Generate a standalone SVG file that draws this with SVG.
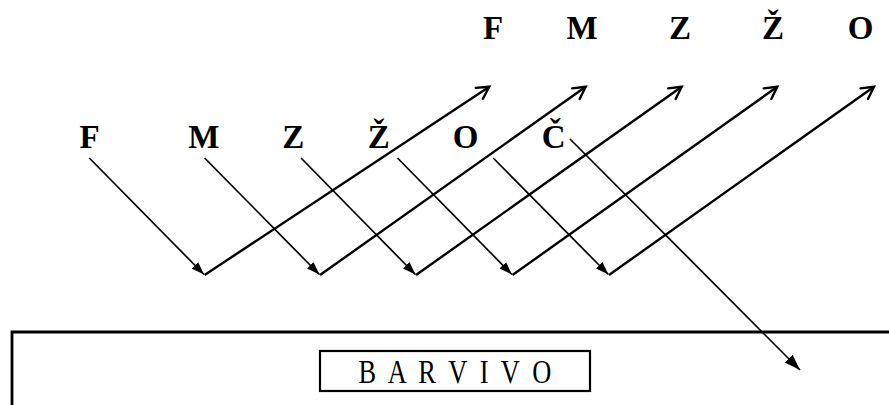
<svg xmlns="http://www.w3.org/2000/svg" width="889" height="405" viewBox="0 0 889 405">
<style>
.lt{font-family:"Liberation Serif","Times New Roman",serif;font-weight:bold;font-size:33px;fill:#000;text-anchor:middle}
.dn{stroke:#000;stroke-width:1.7;fill:none;marker-end:url(#fillHead)}
.up{stroke:#000;stroke-width:2.4;fill:none;marker-end:url(#openHead)}
.frame{stroke:#000;stroke-width:2.8;fill:none}
.box{stroke:#000;stroke-width:2.2;fill:#fff}
.bt{font-family:"Liberation Serif","Times New Roman",serif;font-size:33px;fill:#000;text-anchor:middle}
</style>
<defs>
<marker id="fillHead" markerUnits="userSpaceOnUse" markerWidth="16" markerHeight="12" refX="13" refY="6" orient="auto"><path d="M0,1.5 L13,6 L0,10.5 z" fill="#000"/></marker>
<marker id="bigHead" markerUnits="userSpaceOnUse" markerWidth="18" markerHeight="14" refX="16" refY="7" orient="auto"><path d="M0,1.5 L16,7 L0,12.5 z" fill="#000"/></marker>
<marker id="openHead" markerUnits="userSpaceOnUse" markerWidth="18" markerHeight="18" refX="14" refY="9" orient="auto"><path d="M2,2.5 L14,9 L2,15.5" fill="none" stroke="#000" stroke-width="2.4" stroke-linecap="round" stroke-linejoin="miter"/></marker>
</defs>
<rect width="889" height="405" fill="#fff"/>
<g id="frame"><path class="frame" d="M12,405 L12,332 L889,332"/></g>
<g id="top-F"><text class="lt" x="493" y="39">F</text></g>
<g id="top-M"><text class="lt" x="582" y="39">M</text></g>
<g id="top-Z"><text class="lt" x="680" y="39">Z</text></g>
<g id="top-Zh"><text class="lt" x="773" y="39">Ž</text></g>
<g id="top-O"><text class="lt" x="860.5" y="39">O</text></g>
<g id="bot-F"><text class="lt" x="89.7" y="148">F</text></g>
<g id="bot-M"><text class="lt" x="203.8" y="148">M</text></g>
<g id="bot-Z"><text class="lt" x="293.3" y="148">Z</text></g>
<g id="bot-Zh"><text class="lt" x="378.8" y="148">Ž</text></g>
<g id="bot-O"><text class="lt" x="465.7" y="148">O</text></g>
<g id="bot-Ch"><text class="lt" x="553.7" y="148">Č</text></g>
<g id="barvivo">
<rect class="box" x="320" y="351" width="270" height="40"/>
<text class="bt" transform="translate(455,383) scale(0.8,1)" x="0" y="0" textLength="241" lengthAdjust="spacing">B A R V I V O</text>
</g>
<g id="connectors">
<line class="dn" x1="89.3" y1="158" x2="204" y2="274.5"/>
<line class="dn" x1="204.6" y1="158" x2="319.4" y2="274.5"/>
<line class="dn" x1="301" y1="158" x2="415.4" y2="274.5"/>
<line class="dn" x1="397.5" y1="158" x2="511.9" y2="274.5"/>
<line class="dn" x1="493.2" y1="158" x2="608.4" y2="274.5"/>
<line class="up" x1="204.6" y1="275" x2="489.3" y2="86.7"/>
<line class="up" x1="320" y1="275" x2="585.7" y2="86.7"/>
<line class="up" x1="416" y1="275" x2="681.7" y2="86.7"/>
<line class="up" x1="512.5" y1="275" x2="777.3" y2="86.7"/>
<line class="up" x1="609" y1="275" x2="874" y2="86.7"/>
<line x1="570" y1="139" x2="800" y2="370" stroke="#000" stroke-width="1.7" marker-end="url(#bigHead)"/>
</g>
</svg>
